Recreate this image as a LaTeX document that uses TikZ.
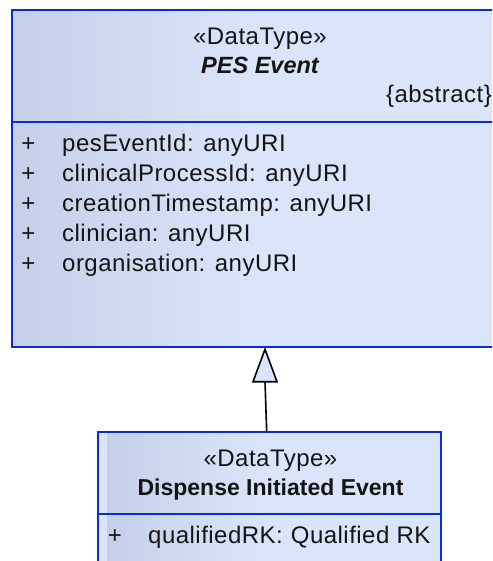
\documentclass[tikz,border=0pt]{standalone}
\usepackage{fontspec}
\setmainfont{Liberation Sans}
\newfontfamily\umlreg[LetterSpace=2.0]{Liberation Sans}
\definecolor{umlblue}{HTML}{0A2ECC}
\definecolor{filldark}{HTML}{C5D0E8}
\definecolor{filllight}{HTML}{DBE5FA}
\tikzset{
  umltext/.style={inner sep=0pt, anchor=base, font=\fontsize{24}{28}\selectfont\umlreg, text=black!92},
  umlattr/.style={umltext, anchor=base west},
  umlbold/.style={inner sep=0pt, anchor=base, font=\fontsize{23}{28}\selectfont\bfseries, text=black!92},
  umlborder/.style={draw=umlblue, line width=2pt},
  genline/.style={draw=black, line width=1.6pt},
  gentri/.style={draw=black, fill=filllight, line width=1.6pt, line join=miter},
}
\begin{document}
\begin{tikzpicture}[x=1pt,y=-1pt]
\useasboundingbox (0,0) rectangle (492,561);
\clip (0,0) rectangle (492,561);
% ---------- PES Event box ----------
\fill[filllight] (12,10) rectangle (510,347);
\shade[left color=filldark, right color=filllight] (12,10) rectangle (260,347);
\draw[umlborder] (510,10) -- (12,10) -- (12,347) -- (510,347);
\draw[umlborder] (12,122) -- (510,122);
\coordinate (pestop) at (265,347);
\node[umltext] (pesst) at (260,44.3) {«DataType»};
\node[umlbold, font=\fontsize{23.5}{28}\selectfont\bfseries\itshape] (pesname) at (260,73.3) {PES Event};
\node[umltext, anchor=base east] (pesabs) at (492,102.7) {\{abstract\}};
\foreach \i/\t in {0/pesEventId: anyURI,1/clinicalProcessId: anyURI,2/creationTimestamp: anyURI,3/clinician: anyURI,4/organisation: anyURI}{
  \node[umltext] (plus\i) at (28.5,151.7+30*\i) {+};
  \node[umlattr] (attr\i) at (62,151.7+30*\i) {\t};
}
% ---------- Dispense Initiated Event box ----------
\fill[filllight] (98,432) rectangle (441,570);
\shade[left color=filldark, right color=filllight] (107,432) rectangle (270,570);
\draw[umlborder] (98,570) -- (98,432) -- (441,432) -- (441,570);
\draw[umlborder] (98,513.7) -- (441,513.7);
\node[umltext] (dst) at (270.5,466.7) {«DataType»};
\node[umlbold] (dname) at (270.5,495.7) {Dispense Initiated Event};
\node[umltext] (dplus) at (115,543.3) {+};
\node[umlattr] (dattr) at (148,543.3) {qualifiedRK:\hspace{8pt}Qualified RK};
\coordinate (dtop) at (266.7,432);
% ---------- generalization ----------
\coordinate (tribase) at (265,381.7);
\draw[genline] (dtop) -- (tribase);
\draw[gentri] (265,349.3) -- (277,381.7) -- (253,381.7) -- cycle;
\end{tikzpicture}
\end{document}
